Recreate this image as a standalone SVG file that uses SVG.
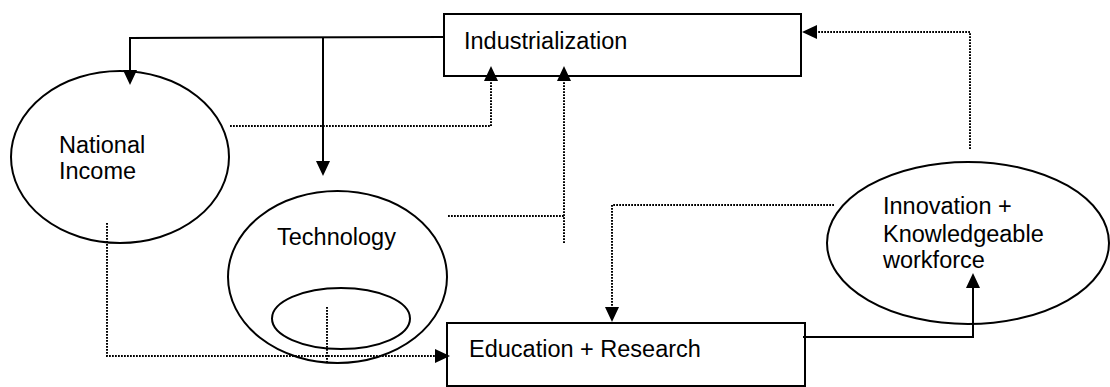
<svg xmlns="http://www.w3.org/2000/svg" width="1110" height="387" viewBox="0 0 1110 387">
<style>
.shape{fill:none;stroke:#000;stroke-width:2}
.lbl{font-family:"Liberation Sans",Arial,sans-serif;font-size:23.5px;fill:#000}
.solid{fill:none;stroke:#000;stroke-width:2}
.dot{fill:none;stroke:#000;stroke-width:2;stroke-dasharray:1.8 1.2}
</style>
<defs>
<marker id="arr" viewBox="0 0 15 14" refX="0" refY="7" markerWidth="15" markerHeight="14" markerUnits="userSpaceOnUse" orient="auto">
<path d="M0,0 L15,7 L0,14 z" fill="#000"/>
</marker>
</defs>
<rect width="1110" height="387" fill="#fff"/>
<g id="connectors">
<path class="solid" d="M444,37 L130,38 L130,70" marker-end="url(#arr)"/>
<path class="solid" d="M323,37 L323,161" marker-end="url(#arr)"/>
<path class="dot" d="M230,126 L491,126 L491,81" marker-end="url(#arr)"/>
<path class="dot" d="M448,216 L564,216"/>
<path class="dot" d="M564,243 L564,81" marker-end="url(#arr)"/>
<path class="dot" d="M970,149 L970,32 L817,32" marker-end="url(#arr)"/>
<path class="dot" d="M834,205 L612,205 L612,307" marker-end="url(#arr)"/>
<path class="dot" d="M107,223 L107,356 L435,356" marker-end="url(#arr)"/>
<path class="dot" d="M327,307 L327,362"/>
<path class="solid" d="M803,337 L973,337 L973,288" marker-end="url(#arr)"/>
</g>
<g id="industrialization">
<rect class="shape" x="444" y="14" width="357" height="62"/>
<text class="lbl" x="464" y="49">Industrialization</text>
</g>
<g id="national-income">
<ellipse class="shape" cx="120" cy="157" rx="109" ry="86"/>
<text class="lbl" x="59" y="153">National</text>
<text class="lbl" x="59" y="179">Income</text>
</g>
<g id="technology">
<ellipse class="shape" cx="337.5" cy="277" rx="109.5" ry="86"/>
<ellipse class="shape" cx="341" cy="318.5" rx="69" ry="30.5"/>
<text class="lbl" x="277" y="245">Technology</text>
</g>
<g id="education-research">
<rect class="shape" x="447" y="323" width="358" height="63"/>
<text class="lbl" x="469" y="357">Education + Research</text>
</g>
<g id="innovation">
<ellipse class="shape" cx="968" cy="243" rx="141" ry="81"/>
<text class="lbl" x="883" y="214">Innovation +</text>
<text class="lbl" x="883" y="242">Knowledgeable</text>
<text class="lbl" x="883" y="268">workforce</text>
</g>
</svg>
